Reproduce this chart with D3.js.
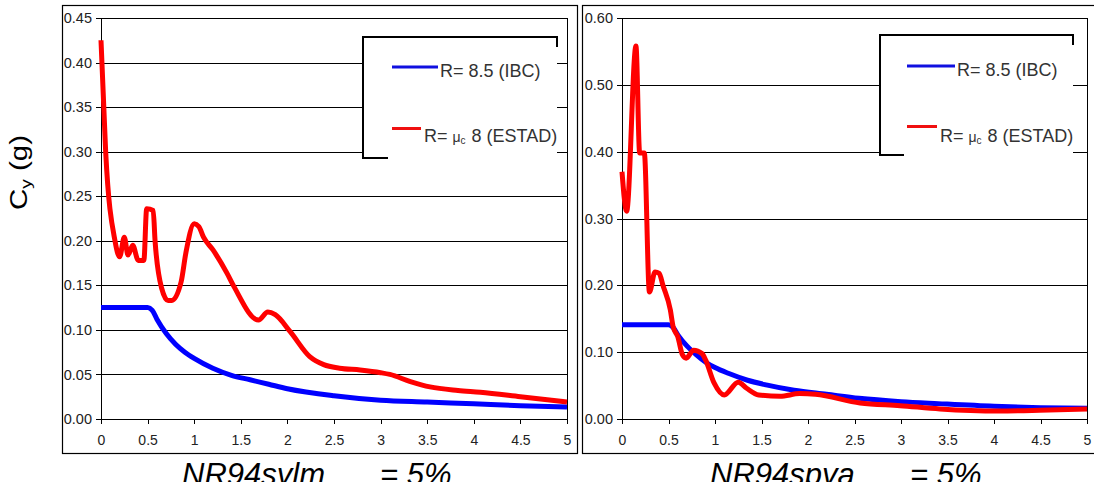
<!DOCTYPE html>
<html><head><meta charset="utf-8">
<script src="https://cdn.jsdelivr.net/npm/d3@7"></script>
<style>
body{margin:0;background:#fff}
svg{display:block}
text{font-family:"Liberation Sans",Arial,Helvetica,sans-serif}
</style>
</head><body>
<svg id="chart" width="1094" height="491"></svg>
<script>
// ---------- data ----------
const periodTicks = [0, 0.5, 1, 1.5, 2, 2.5, 3, 3.5, 4, 4.5, 5];
const periodTickLabels = ["0", "0.5", "1", "1.5", "2", "2.5", "3", "3.5", "4", "4.5", "5"];
const cyTicksLeft = [0, 0.05, 0.10, 0.15, 0.20, 0.25, 0.30, 0.35, 0.40, 0.45];
const cyTicksRight = [0, 0.10, 0.20, 0.30, 0.40, 0.50, 0.60];

// Left panel: NR94sylm
const tLeftIbc  = [0, 0.1, 0.2, 0.3, 0.4, 0.5, 0.55, 0.6, 0.7, 0.8, 0.9, 1.0, 1.2, 1.4, 1.6, 1.8, 2.0, 2.5, 3.0, 3.5, 4.0, 4.5, 5.0];
const cyLeftIbc = [0.125, 0.125, 0.125, 0.125, 0.125, 0.125, 0.122, 0.112, 0.096, 0.084, 0.075, 0.068, 0.057, 0.049, 0.044, 0.039, 0.034, 0.026, 0.021, 0.019, 0.017, 0.015, 0.0135];
const tLeftEstad  = [0, 0.05, 0.15, 0.2, 0.25, 0.29, 0.34, 0.4, 0.46, 0.49, 0.56, 0.58, 0.65, 0.72, 0.76, 0.86, 0.91, 1.0, 1.05, 1.1, 1.2, 1.35, 1.43, 1.69, 1.79, 1.87, 2.03, 2.24, 2.39, 2.56, 2.78, 3.0, 3.1, 3.32, 3.53, 3.83, 4.07, 4.5, 5.0];
const cyLeftEstad = [0.425, 0.30, 0.20, 0.182, 0.204, 0.184, 0.195, 0.178, 0.178, 0.236, 0.234, 0.20, 0.147, 0.133, 0.133, 0.154, 0.186, 0.219, 0.216, 0.204, 0.19, 0.164, 0.148, 0.111, 0.12, 0.117, 0.098, 0.07, 0.061, 0.057, 0.055, 0.052, 0.05, 0.042, 0.036, 0.032, 0.030, 0.025, 0.019];

// Right panel: NR94spya
const tRightIbc  = [0, 0.5, 0.55, 0.6, 0.7, 0.8, 0.9, 1.0, 1.15, 1.35, 1.55, 1.85, 2.2, 2.55, 3.0, 3.4, 4.0, 4.5, 5.0];
const cyRightIbc = [0.141, 0.141, 0.137, 0.126, 0.109, 0.096, 0.085, 0.077, 0.068, 0.058, 0.051, 0.043, 0.037, 0.031, 0.026, 0.023, 0.019, 0.017, 0.016];
const tRightEstad  = [0, 0.05, 0.15, 0.19, 0.24, 0.295, 0.355, 0.40, 0.44, 0.52, 0.55, 0.6, 0.65, 0.69, 0.77, 0.86, 0.9, 0.99, 1.1, 1.25, 1.34, 1.47, 1.7, 1.91, 2.08, 2.56, 2.99, 3.42, 4.06, 4.49, 5.0];
const cyRightEstad = [0.37, 0.311, 0.558, 0.398, 0.398, 0.19, 0.22, 0.218, 0.20, 0.163, 0.138, 0.123, 0.096, 0.091, 0.103, 0.098, 0.088, 0.054, 0.036, 0.055, 0.046, 0.036, 0.034, 0.038, 0.037, 0.024, 0.020, 0.015, 0.012, 0.013, 0.015];

const legendIbc = "R= 8.5 (IBC)";
const legendEstad = ["R= ", "μ", "c", "8 (ESTAD)"];
const panelTitles = ["NR94sylm", "NR94spya"];
const dampingLabel = "= 5%";
const yAxisTitle = ["C", "y", " (g)"];

// ---------- drawing ----------
const svg = d3.select("#chart");
svg.append("rect").attr("width", 1094).attr("height", 491).attr("fill", "#fff");

const BLUE = "#0000ff", RED = "#ff0000";

function drawPanel(cfg) {
  const g = svg.append("g");
  g.append("rect").attr("x", cfg.frame[0] + 0.5).attr("y", cfg.frame[1] + 0.5)
    .attr("width", cfg.frame[2]).attr("height", cfg.frame[3])
    .attr("fill", "none").attr("stroke", "#000").attr("stroke-width", 1.2);

  const [px, py, pw, ph] = cfg.plot;
  const x = d3.scaleLinear().domain([0, 5]).range([px, px + pw]);
  const y = d3.scaleLinear().domain([0, cfg.yMax]).range([py + ph, py]);

  const grid = g.append("g").attr("transform", `translate(${px},0)`)
    .call(d3.axisLeft(y).tickValues(cfg.yTicks).tickSize(-pw).tickFormat(""));
  grid.select(".domain").remove();
  grid.selectAll("line").attr("stroke", "#000").attr("stroke-width", 1).attr("shape-rendering", "crispEdges");

  g.append("rect").attr("x", px).attr("y", py).attr("width", pw).attr("height", ph)
    .attr("fill", "none").attr("stroke", "#000").attr("stroke-width", 1).attr("shape-rendering", "crispEdges");

  const ya = g.append("g").attr("transform", `translate(${px},0)`)
    .call(d3.axisLeft(y).tickValues(cfg.yTicks).tickSize(5).tickPadding(4).tickFormat(d3.format(".2f")));
  ya.attr("font-size", null).attr("font-family", null);
  ya.select(".domain").attr("stroke", "#000").attr("shape-rendering", "crispEdges");
  ya.selectAll("line").attr("stroke", "#000").attr("shape-rendering", "crispEdges");
  ya.selectAll("text").attr("font-size", "14.5px").attr("fill", "#222");

  const xa = g.append("g").attr("transform", `translate(0,${py + ph})`)
    .call(d3.axisBottom(x).tickValues(periodTicks).tickSize(5).tickPadding(11)
      .tickFormat((d, i) => periodTickLabels[i]));
  xa.attr("font-size", null).attr("font-family", null);
  xa.select(".domain").attr("stroke", "#000").attr("shape-rendering", "crispEdges");
  xa.selectAll("line").attr("stroke", "#000").attr("shape-rendering", "crispEdges");
  xa.selectAll("text").attr("font-size", "14px").attr("fill", "#222");

  const line = d3.line().x(d => x(d[0])).y(d => y(d[1])).curve(d3.curveMonotoneX);
  g.append("path").datum(d3.zip(cfg.tIbc, cfg.cyIbc)).attr("d", line)
    .attr("fill", "none").attr("stroke", BLUE).attr("stroke-width", 5).attr("stroke-linejoin", "round");
  g.append("path").datum(d3.zip(cfg.tEstad, cfg.cyEstad)).attr("d", line)
    .attr("fill", "none").attr("stroke", RED).attr("stroke-width", 5).attr("stroke-linejoin", "round");

  // legend
  const L = cfg.legend;
  g.append("rect").attr("x", L[0]).attr("y", L[1]).attr("width", L[2] - L[0]).attr("height", L[3] - L[1])
    .attr("fill", "#fff");
  g.append("path")
    .attr("d", `M${L[4]},${L[3]} H${L[0]} V${L[1]} H${L[2]} V${L[1] + 10}`)
    .attr("fill", "none").attr("stroke", "#000").attr("stroke-width", 2);

  const lg = cfg.legendItems;
  g.append("line").attr("x1", lg.blueLine[0]).attr("x2", lg.blueLine[1]).attr("y1", lg.blueLine[2]).attr("y2", lg.blueLine[2])
    .attr("stroke", "#1010e0").attr("stroke-width", 3);
  g.append("text").attr("x", lg.blueText[0]).attr("y", lg.blueText[1])
    .attr("font-size", "18px").attr("fill", "#333").text(legendIbc);
  g.append("line").attr("x1", lg.redLine[0]).attr("x2", lg.redLine[1]).attr("y1", lg.redLine[2]).attr("y2", lg.redLine[2])
    .attr("stroke", "#f01010").attr("stroke-width", 3);
  const rt = g.append("text").attr("x", lg.redText[0]).attr("y", lg.redText[1])
    .attr("font-size", "18px").attr("fill", "#333").attr("xml:space", "preserve");
  rt.append("tspan").text(legendEstad[0]);
  rt.append("tspan").attr("font-size", "14px").text(legendEstad[1]);
  rt.append("tspan").attr("dy", 2).attr("font-size", "10px").text(legendEstad[2]);
  rt.append("tspan").attr("dy", -2).attr("dx", 6).text(legendEstad[3]);

  const tg = g.append("g").attr("clip-path", "url(#titleClip)");
  tg.append("text").attr("x", cfg.titleX[0]).attr("y", 485)
    .attr("font-size", "31px").attr("font-style", "italic").attr("fill", "#000").text(cfg.title);
  tg.append("text").attr("x", cfg.titleX[1]).attr("y", 485)
    .attr("font-size", "31px").attr("font-style", "italic").attr("fill", "#000").text(dampingLabel);
}

svg.append("defs").append("clipPath").attr("id", "titleClip")
  .append("rect").attr("x", 0).attr("y", 455).attr("width", 1094).attr("height", 27);

drawPanel({
  frame: [62, 5, 515, 448],
  plot: [101, 18, 466, 401],
  yMax: 0.45, yTicks: cyTicksLeft,
  tIbc: tLeftIbc, cyIbc: cyLeftIbc, tEstad: tLeftEstad, cyEstad: cyLeftEstad,
  legend: [363, 37, 557, 158, 388],
  legendItems: { blueLine: [392, 438, 67], blueText: [440, 76.5], redLine: [392, 421, 128.5], redText: [424, 141.5] },
  title: panelTitles[0], titleX: [182, 380]
});
drawPanel({
  frame: [582, 5, 520, 448],
  plot: [622, 18, 465, 401],
  yMax: 0.60, yTicks: cyTicksRight,
  tIbc: tRightIbc, cyIbc: cyRightIbc, tEstad: tRightEstad, cyEstad: cyRightEstad,
  legend: [880, 35, 1073, 155, 904],
  legendItems: { blueLine: [907, 955, 66], blueText: [957, 75.5], redLine: [907, 937, 126.5], redText: [940, 141.5] },
  title: panelTitles[1], titleX: [710, 910]
});

const yt = svg.append("text")
  .attr("transform", "translate(27,210) rotate(-90)")
  .attr("font-size", "23px").attr("fill", "#000")
  .attr("textLength", 75).attr("lengthAdjust", "spacingAndGlyphs");
yt.append("tspan").text(yAxisTitle[0]);
yt.append("tspan").attr("font-size", "15px").attr("dy", 4).text(yAxisTitle[1]);
yt.append("tspan").attr("dy", -4).text(yAxisTitle[2]);
</script>
</body></html>
